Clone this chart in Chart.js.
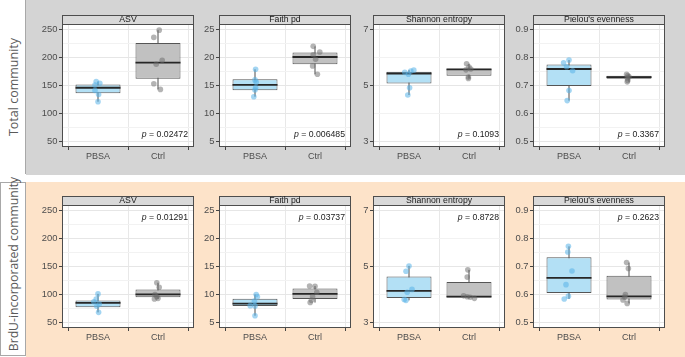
<!DOCTYPE html>
<html><head><meta charset="utf-8">
<script src="https://cdn.jsdelivr.net/npm/chart.js@4"></script>
<style>
html,body{margin:0;padding:0;background:#fff}
body{width:685px;height:357px;position:relative;overflow:hidden;font-family:"Liberation Sans",Arial,sans-serif}
.abs{position:absolute}
.side{position:absolute;white-space:nowrap;font-family:"Open Sans",sans-serif;font-size:12.5px;color:#5a5a5a;transform:translate(-50%,-50%) rotate(-90deg)}
</style></head>
<body>
<div class="abs" style="left:26px;top:0;width:659px;height:175px;background:#d4d4d4"></div>
<div class="abs" style="left:0;top:0;width:25px;height:174px;background:#fff;border-right:1px solid #a8a8a8"></div>
<div class="side" style="left:12.5px;top:87px">Total community</div>
<div class="abs" style="left:26px;top:182px;width:659px;height:175px;background:#fde3c9"></div>
<div class="abs" style="left:0;top:182px;width:24px;height:172px;background:#fff;border:1px solid #a8a8a8"></div>
<div class="side" style="left:12.5px;top:264px;font-size:12.2px">BrdU-incorporated community</div>
<script>
// ---------- data ----------
const groups = ['PBSA', 'Ctrl'];
const groupPos = [1, 2];
const xLimits = [0.4, 2.6];
const metricNames = ['ASV', 'Faith pd', 'Shannon entropy', "Pielou's evenness"];
const rowNames = ['Total community', 'BrdU-incorporated community'];

const yLimitsASV = [40, 260];
const yMajorASV = [50, 100, 150, 200, 250];
const yMinorASV = [75, 125, 175, 225];
const yLimitsFaith = [4, 26];
const yMajorFaith = [5, 10, 15, 20, 25];
const yMinorFaith = [7.5, 12.5, 17.5, 22.5];
const yLimitsShannon = [2.8, 7.2];
const yMajorShannon = [3, 5, 7];
const yMinorShannon = [4, 6];
const yLimitsPielou = [0.48, 0.92];
const yMajorPielou = [0.5, 0.6, 0.7, 0.8, 0.9];
const yMinorPielou = [0.55, 0.65, 0.75, 0.85];

const pTotal = ['0.02472', '0.006485', '0.1093', '0.3367'];
const pBrdU = ['0.01291', '0.03737', '0.8728', '0.2623'];

// box stats: [lower whisker, Q1, median, Q3, upper whisker]
// Total community
const totalAsvPBSA = [157, 154, 151, 141, 134, 121];
const totalAsvCtrl = [249, 236, 195, 188, 153, 143];
const totalAsvJitPBSA = [-0.03, 0.03, -0.05, -0.05, 0.01, 0.0];
const totalAsvJitCtrl = [0.02, -0.07, 0.07, -0.03, -0.07, 0.04];
const totalAsvBoxPBSA = [121, 136, 146, 152, 157];
const totalAsvBoxCtrl = [143, 162, 191, 226, 249];

const totalFaithPBSA = [17.9, 16.0, 15.6, 14.6, 14.2, 13.0];
const totalFaithCtrl = [22.0, 21.0, 20.5, 19.7, 18.5, 17.0];
const totalFaithJitPBSA = [0.01, 0.0, 0.02, 0.01, 0.0, -0.02];
const totalFaithJitCtrl = [-0.03, 0.08, -0.03, 0.01, -0.04, 0.04];
const totalFaithBoxPBSA = [13.0, 14.15, 15.1, 16.1, 17.9];
const totalFaithBoxCtrl = [17.0, 18.8, 20.1, 20.9, 22.0];

const totalShannonPBSA = [5.55, 5.52, 5.47, 5.40, 4.92, 4.66];
const totalShannonCtrl = [5.78, 5.66, 5.59, 5.56, 5.30, 5.25];
const totalShannonJitPBSA = [0.08, 0.03, -0.07, -0.01, 0.01, -0.02];
const totalShannonJitCtrl = [-0.04, 0.0, 0.03, -0.05, -0.01, -0.01];
const totalShannonBoxPBSA = [4.66, 5.07, 5.43, 5.49, 5.55];
const totalShannonBoxCtrl = [5.25, 5.35, 5.58, 5.60, 5.78];

const totalPielouPBSA = [0.791, 0.781, 0.767, 0.753, 0.682, 0.646];
const totalPielouCtrl = [0.740, 0.736, 0.731, 0.727, 0.718, 0.713];
const totalPielouJitPBSA = [0.0, -0.09, -0.04, 0.06, 0.0, -0.03];
const totalPielouJitCtrl = [-0.04, -0.02, 0.0, -0.03, -0.02, -0.03];
const totalPielouBoxPBSA = [0.646, 0.698, 0.759, 0.775, 0.791];
const totalPielouBoxCtrl = [0.713, 0.724, 0.730, 0.735, 0.740];

// BrdU-incorporated community
const brduAsvPBSA = [101, 92, 87, 83, 79, 68];
const brduAsvCtrl = [121, 113, 100, 96, 93, 92];
const brduAsvJitPBSA = [0.0, -0.03, -0.07, 0.02, -0.02, 0.01];
const brduAsvJitCtrl = [-0.02, 0.02, -0.05, -0.02, 0.0, -0.06];
const brduAsvBoxPBSA = [68, 77, 85, 89, 101];
const brduAsvBoxCtrl = [92, 95, 100, 109, 121];

const brduFaithPBSA = [10.0, 9.6, 8.8, 8.0, 7.95, 6.2];
const brduFaithCtrl = [11.5, 11.45, 10.4, 9.6, 8.95, 8.55];
const brduFaithJitPBSA = [0.02, 0.04, -0.01, -0.08, 0.0, 0.0];
const brduFaithJitCtrl = [-0.09, 0.0, 0.03, -0.04, -0.06, -0.08];
const brduFaithBoxPBSA = [6.2, 7.95, 8.35, 9.25, 10.0];
const brduFaithBoxCtrl = [8.55, 9.2, 10.1, 11.05, 11.5];

const brduShannonPBSA = [5.02, 4.83, 4.18, 4.08, 3.82, 3.79];
const brduShannonCtrl = [4.88, 4.62, 3.95, 3.92, 3.90, 3.86];
const brduShannonJitPBSA = [0.0, -0.05, 0.05, -0.03, -0.08, -0.05];
const brduShannonJitCtrl = [-0.02, -0.03, -0.09, -0.03, 0.02, 0.09];
const brduShannonBoxPBSA = [3.79, 3.87, 4.13, 4.64, 5.02];
const brduShannonBoxCtrl = [3.86, 3.89, 3.92, 4.45, 4.88];

const brduPielouPBSA = [0.772, 0.752, 0.684, 0.635, 0.594, 0.584];
const brduPielouCtrl = [0.714, 0.693, 0.600, 0.591, 0.580, 0.568];
const brduPielouJitPBSA = [-0.01, -0.02, 0.05, -0.05, -0.01, -0.08];
const brduPielouJitCtrl = [-0.04, -0.01, -0.06, -0.07, -0.10, -0.03];
const brduPielouBoxPBSA = [0.584, 0.605, 0.659, 0.733, 0.772];
const brduPielouBoxCtrl = [0.568, 0.582, 0.593, 0.667, 0.714];

// ---------- layout / style ----------
const FONT = '"Liberation Sans", Arial, sans-serif';
const panelLefts = [62, 219, 373, 533];
const rowTops = [15, 196];
const plotW = 134, plotH = 123, stripH = 9, yAxisW = 30, xAxisH = 20, padR = 2;
const boxFill = ['#b3e0f5', '#c1c1c1'];
const pointFill = ['rgba(88,178,232,0.55)', 'rgba(105,105,105,0.5)'];
const boxHalf = 0.375;

const axes = [
  {lim: yLimitsASV, major: yMajorASV, minor: yMinorASV},
  {lim: yLimitsFaith, major: yMajorFaith, minor: yMinorFaith},
  {lim: yLimitsShannon, major: yMajorShannon, minor: yMinorShannon},
  {lim: yLimitsPielou, major: yMajorPielou, minor: yMinorPielou}
];
const rows = [
  {p: pTotal, pPos: 'bottom',
   pts: [[totalAsvPBSA, totalAsvCtrl], [totalFaithPBSA, totalFaithCtrl], [totalShannonPBSA, totalShannonCtrl], [totalPielouPBSA, totalPielouCtrl]],
   jit: [[totalAsvJitPBSA, totalAsvJitCtrl], [totalFaithJitPBSA, totalFaithJitCtrl], [totalShannonJitPBSA, totalShannonJitCtrl], [totalPielouJitPBSA, totalPielouJitCtrl]],
   box: [[totalAsvBoxPBSA, totalAsvBoxCtrl], [totalFaithBoxPBSA, totalFaithBoxCtrl], [totalShannonBoxPBSA, totalShannonBoxCtrl], [totalPielouBoxPBSA, totalPielouBoxCtrl]]},
  {p: pBrdU, pPos: 'top',
   pts: [[brduAsvPBSA, brduAsvCtrl], [brduFaithPBSA, brduFaithCtrl], [brduShannonPBSA, brduShannonCtrl], [brduPielouPBSA, brduPielouCtrl]],
   jit: [[brduAsvJitPBSA, brduAsvJitCtrl], [brduFaithJitPBSA, brduFaithJitCtrl], [brduShannonJitPBSA, brduShannonJitCtrl], [brduPielouJitPBSA, brduPielouJitCtrl]],
   box: [[brduAsvBoxPBSA, brduAsvBoxCtrl], [brduFaithBoxPBSA, brduFaithBoxCtrl], [brduShannonBoxPBSA, brduShannonBoxCtrl], [brduPielouBoxPBSA, brduPielouBoxCtrl]]}
];

const panelDecor = {
  id: 'panelDecor',
  beforeDraw(chart) {
    const a = chart.chartArea, c = chart.ctx;
    c.save(); c.fillStyle = '#fff';
    c.fillRect(a.left, a.top, a.right - a.left, a.bottom - a.top);
    c.restore();
  },
  afterDraw(chart, args, o) {
    const a = chart.chartArea, c = chart.ctx;
    c.save();
    c.strokeStyle = '#4d4d4d'; c.lineWidth = 1;
    c.strokeRect(a.left + 0.5, a.top + 0.5, a.right - a.left - 1, a.bottom - a.top - 1);
    // strip
    c.fillStyle = '#d9d9d9';
    c.fillRect(a.left, a.top - o.stripH, a.right - a.left, o.stripH);
    c.strokeRect(a.left + 0.5, a.top - o.stripH + 0.5, a.right - a.left - 1, o.stripH);
    c.fillStyle = '#1a1a1a';
    c.font = '8.7px ' + FONT;
    c.textAlign = 'center'; c.textBaseline = 'middle';
    c.fillText(o.title, (a.left + a.right) / 2, a.top - o.stripH / 2 + 0.5);
    // p-value
    const rest = ' = ' + o.p;
    c.font = '8.7px ' + FONT;
    const wRest = c.measureText(rest).width;
    c.font = 'italic 8.7px ' + FONT;
    const wP = c.measureText('p').width;
    const xr = a.right - 6;
    const y = o.pPos === 'bottom' ? a.bottom - 12.5 : a.top + 13;
    c.textAlign = 'left';
    c.fillStyle = '#222';
    c.fillText('p', xr - wRest - wP, y);
    c.font = '8.7px ' + FONT;
    c.fillText(rest, xr - wRest, y);
    c.restore();
  }
};

function makeChart(r, m) {
  const row = rows[r], ax = axes[m];
  const W = yAxisW + plotW + padR, H = stripH + plotH + xAxisH;
  const wrap = document.createElement('div');
  wrap.className = 'abs';
  wrap.style.left = (panelLefts[m] - yAxisW) + 'px';
  wrap.style.top = rowTops[r] + 'px';
  wrap.style.width = W + 'px'; wrap.style.height = H + 'px';
  const cv = document.createElement('canvas');
  cv.width = W; cv.height = H; cv.style.width = W + 'px'; cv.style.height = H + 'px';
  wrap.appendChild(cv); document.body.appendChild(wrap);

  const pts = [], ptCol = [];
  groups.forEach((g, gi) => row.pts[m][gi].forEach((v, k) => {
    pts.push({x: groupPos[gi] + row.jit[m][gi][k], y: v}); ptCol.push(pointFill[gi]);
  }));
  const med = [], wh = [];
  groups.forEach((g, gi) => {
    const b = row.box[m][gi];
    if (gi) { const mid = (groupPos[gi - 1] + groupPos[gi]) / 2; med.push({x: mid, y: null}); wh.push({x: mid, y: null}); }
    med.push({x: groupPos[gi] - boxHalf, y: b[2]}, {x: groupPos[gi] + boxHalf, y: b[2]});
    wh.push({x: groupPos[gi], y: b[0]}, {x: groupPos[gi], y: b[4]});
  });
  const boxes = groups.map((g, gi) => ({x: groupPos[gi], y: [row.box[m][gi][1], row.box[m][gi][3]]}));
  const allY = ax.major.concat(ax.minor).sort((a, b) => a - b);

  new Chart(cv, {
    type: 'bar',
    data: {datasets: [
      {type: 'scatter', data: pts, backgroundColor: ptCol, borderWidth: 0, pointRadius: 2.8, order: 1},
      {type: 'line', data: med, borderColor: '#262626', borderWidth: 1.8, pointRadius: 0, spanGaps: false, order: 2},
      {type: 'bar', data: boxes, backgroundColor: boxFill, borderColor: '#555', borderWidth: 1, borderSkipped: false,
       barPercentage: 0.75, categoryPercentage: 1, order: 3},
      {type: 'line', data: wh, borderColor: '#4d4d4d', borderWidth: 1, pointRadius: 0, spanGaps: false, order: 4}
    ]},
    options: {
      responsive: false, animation: false, devicePixelRatio: 1,
      layout: {padding: {top: stripH, right: padR, left: 0, bottom: 0}},
      plugins: {legend: {display: false}, tooltip: {enabled: false},
        panelDecor: {title: metricNames[m], p: row.p[m], pPos: row.pPos, stripH: stripH}},
      scales: {
        x: {type: 'linear', min: xLimits[0], max: xLimits[1], offset: false,
          afterBuildTicks: s => { s.ticks = groupPos.map(v => ({value: v})); },
          afterFit: s => { s.height = xAxisH; },
          ticks: {callback: v => groups[groupPos.indexOf(v)], font: {family: FONT, size: 9}, color: '#4d4d4d',
                  padding: 1, maxRotation: 0, autoSkip: false},
          grid: {color: '#e8e8e8', lineWidth: 1, tickLength: 3, tickColor: '#444', drawTicks: true},
          border: {display: false}},
        y: {type: 'linear', min: ax.lim[0], max: ax.lim[1],
          afterBuildTicks: s => { s.ticks = allY.map(v => ({value: v})); },
          afterFit: s => { s.width = yAxisW; },
          ticks: {callback: v => ax.major.includes(v) ? String(v) : '', font: {family: FONT, size: 9.4}, color: '#4d4d4d',
                  padding: 1.5, autoSkip: false},
          grid: {color: c => ax.major.includes(c.tick.value) ? '#e6e6e6' : '#f2f2f2', lineWidth: 1, tickLength: 3,
                 tickColor: c => ax.major.includes(c.tick.value) ? '#444' : 'rgba(0,0,0,0)', drawTicks: true},
          border: {display: false}}
      }
    },
    plugins: [panelDecor]
  });
}
for (let r = 0; r < 2; r++) for (let m = 0; m < 4; m++) makeChart(r, m);
</script>
</body></html>
